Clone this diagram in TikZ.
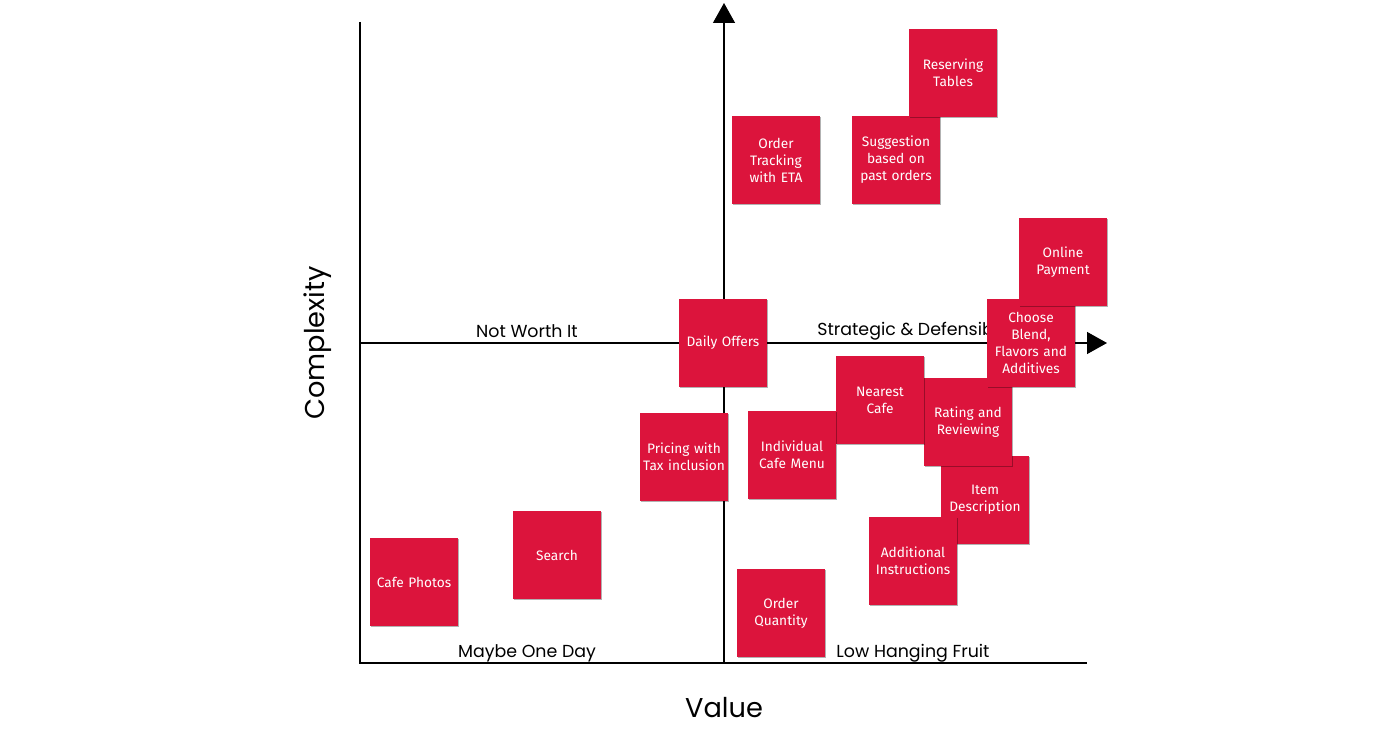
\documentclass[tikz,border=0pt]{standalone}
\usepackage{fontspec}
\setmainfont{Poppins}
\newfontfamily\notefont{Fira Sans}
\usepackage{tikz}
\definecolor{notered}{RGB}{220,20,60}
\usetikzlibrary{arrows.meta, shadows}

\begin{document}
\begin{tikzpicture}[x=0.02cm, y=-0.02cm,
			>={Triangle[length=0.4cm, width=0.44cm]},   %Pfeilspitzen
			note/.style={fill=notered, text=white, minimum width=1.76cm, minimum height=1.76cm, inner sep=0pt,
				text width=1.7cm, align=center, font=\notefont\fontsize{7.8}{9.7}\selectfont,
				drop shadow={shadow xshift=0.8pt, shadow yshift=-0.8pt, opacity=0.3, fill=black}},
			quad/.style={font=\fontsize{9.9}{12}\selectfont, inner sep=0pt},
			axislabel/.style={font=\fontsize{15.5}{18}\selectfont, inner sep=0pt},
			axisline/.style={line width=0.75pt}]
			%Bildbereich
			\useasboundingbox (0,0) rectangle (1400,729);
			% Eckpunkte
			\coordinate (topleft) at (360,22);
			\coordinate (botleft) at (360,663);
			\coordinate (botright) at (1087,663);
			\coordinate (midleft) at (360,343);
			\coordinate (midright) at (1107,343);
			\coordinate (midbot) at (724,663);
			\coordinate (midtop) at (724,3);
			% Rahmen und Achsen
			\draw[axisline] (topleft) -- (botleft) -- (botright);
			\draw[axisline,->] (midleft) -- (midright);
			\draw[axisline,->] (midbot) -- (midtop);
			% Quadranten
			\node[quad] (notworth) at (527,331) {Not Worth It};
			\node[quad, anchor=west] (strategic) at (817,331) {Strategic \& Defensible};
			\node[quad] (maybe) at (527,653) {Maybe One Day};
			\node[quad] (lowhanging) at (913,653) {Low Hanging Fruit};
			% Achsen beschriften
			\node[axislabel] (value) at (724,708) {Value};
			\node[axislabel, rotate=90] (complexity) at (318,343) {Complexity};
			% Zettel
			\node[note] (ordertracking) at (776,160) {Order\\Tracking\\with ETA};
			\node[note] (suggestion) at (896,160) {Suggestion\\based on\\past orders};
			\node[note] (reserving) at (953,73) {Reserving\\Tables};
			\node[note] (dailyoffers) at (723,343) {Daily Offers};
			\node[note] (itemdesc) at (985,500) {Item\\Description};
			\node[note] (rating) at (968,422) {Rating and\\Reviewing};
			\node[note] (chooseblend) at (1031,343) {Choose\\Blend,\\Flavors and\\Additives};
			\node[note] (onlinepay) at (1063,262) {Online\\Payment};
			\node[note] (nearest) at (880,400) {Nearest\\Cafe};
			\node[note] (pricing) at (684,457) {Pricing with\\Tax inclusion};
			\node[note] (cafemenu) at (792,455) {Individual\\Cafe Menu};
			\node[note] (additional) at (913,561) {Additional\\Instructions};
			\node[note] (search) at (557,555) {Search};
			\node[note] (cafephotos) at (414,582) {Cafe Photos};
			\node[note] (quantity) at (781,613) {Order\\Quantity};
		\end{tikzpicture}
\end{document}
